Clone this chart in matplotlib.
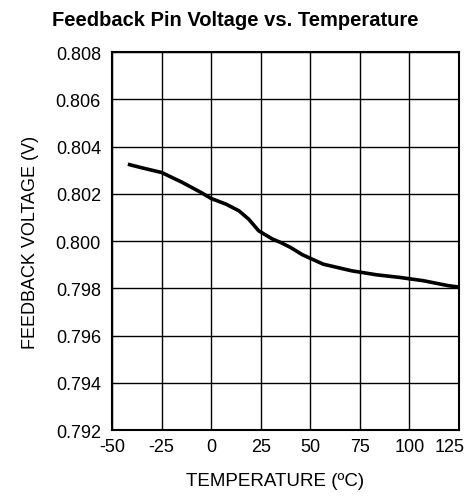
import numpy as np
import matplotlib.pyplot as plt
import matplotlib.transforms as mtransforms

plt.rcParams['font.family'] = ['Liberation Sans', 'DejaVu Sans']
plt.rcParams['axes.unicode_minus'] = False

# values
temperature = [-42, -35, -25, -15, -5, 0, 7.5, 14, 19, 24, 31, 35, 40, 46,
               56.5, 70.8, 83.4, 95, 107, 119.6, 125]
voltage = [0.80325, 0.80310, 0.80290, 0.80250, 0.80205, 0.80180, 0.80156,
           0.80128, 0.80092, 0.80043, 0.80008, 0.79994, 0.79973, 0.79942,
           0.79902, 0.79874, 0.79857, 0.79846, 0.79832, 0.79811, 0.79805]

x_ticks = [-50, -25, 0, 25, 50, 75, 100, 125]
y_ticks = [0.792, 0.794, 0.796, 0.798, 0.800, 0.802, 0.804, 0.806, 0.808]

fig = plt.figure(figsize=(4.71, 5.02), dpi=100)
ax = fig.add_axes([0.2378, 0.1414, 0.7367, 0.753])

ax.plot(temperature, voltage, color='black', lw=2.6, solid_capstyle='butt',
        solid_joinstyle='round')

ax.set_xlim(-50, 125)
ax.set_ylim(0.792, 0.808)
ax.set_xticks(x_ticks)
ax.set_yticks(y_ticks)
ax.set_yticklabels(['%.3f' % v for v in y_ticks])
ax.grid(True, color='black', lw=1.0)
ax.tick_params(length=0, labelsize=13, pad=6)
ax.tick_params(axis='y', pad=8)
for s in ax.spines.values():
    s.set_linewidth(1.5)

# keep the last x label inside the figure, like the reference
last = ax.get_xticklabels()[-1]
last.set_transform(last.get_transform() +
                   mtransforms.ScaledTranslation(-9 / 100, 0, fig.dpi_scale_trans))

ax.set_xlabel('TEMPERATURE (ºC)', fontsize=13.5)
ax.xaxis.set_label_coords(0.47, -0.11)
ax.set_ylabel('FEEDBACK VOLTAGE (V)', fontsize=13, labelpad=12)
fig.text(0.5, 0.96, 'Feedback Pin Voltage vs. Temperature', ha='center',
         va='center', fontsize=14.5, fontweight='bold')

fig.savefig('out.png', dpi=100)
